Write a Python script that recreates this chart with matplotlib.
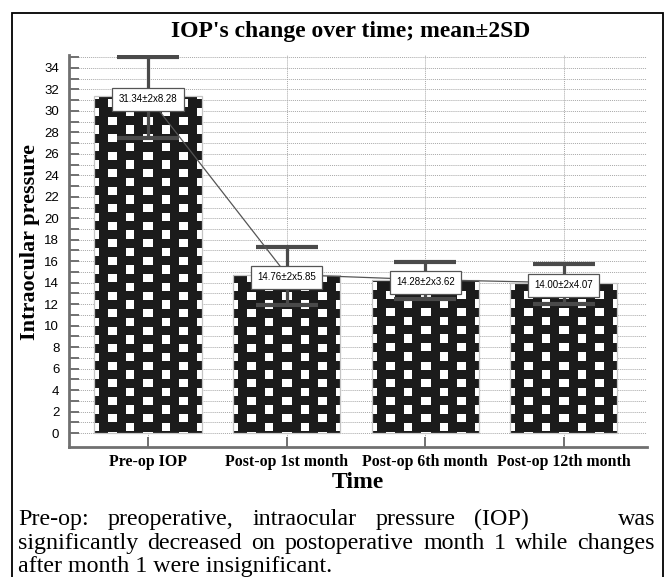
import numpy as np
import matplotlib
matplotlib.use("Agg")
import matplotlib.pyplot as plt
from matplotlib.patches import Rectangle
from matplotlib.ticker import FixedLocator
from matplotlib.colors import ListedColormap

# data
categories = ["Pre-op IOP", "Post-op 1st month", "Post-op 6th month", "Post-op 12th month"]
means = [31.34, 14.76, 14.28, 14.00]
err_low = [3.9, 2.85, 1.8, 2.0]
err_high = [3.66, 2.6, 1.65, 1.7]
box_labels = ["31.34±2x8.28", "14.76±2x5.85", "14.28±2x3.62", "14.00±2x4.07"]
title = "IOP's change over time; mean±2SD"
caption_lines = [
    "Pre-op: preoperative, intraocular pressure (IOP) was",
    "significantly decreased on postoperative month 1 while changes",
    "after month 1 were insignificant.",
]

W, H = 667, 577
SERIF = "Liberation Serif"
SANS = "Liberation Sans"
GRAY = "#707070"
BLACK = "#1b1b1b"

fig = plt.figure(figsize=(W / 100, H / 100), dpi=100)
ax = fig.add_axes([69 / W, 1 - 447 / H, (647 - 69) / W, (447 - 55) / H])
x = np.arange(len(categories))
xlim = (-0.57, 3.60)
ylim = (-1.3, 35.2)
ax.set_xlim(*xlim)
ax.set_ylim(*ylim)

bars = ax.bar(x, means, width=0.773, facecolor="none", edgecolor="#c4c4c4",
              linewidth=0.9, zorder=2.2)

# black fill with staggered white squares, clipped to each bar
period, half = 17.5, 4.2
for b in bars:
    (px0, py0), (px1, py1) = ax.transData.transform(
        [(b.get_x(), 0), (b.get_x() + b.get_width(), b.get_height())])
    w, h = int(round(px1 - px0)), int(round(py1 - py0))
    cx = np.arange(w)[None, :] - (w - 1) / 2
    k = np.round(cx / period)
    in_col = np.abs(cx - k * period) <= half
    y0 = np.where(k % 2 == 0, 14.25, 5.5)
    dy = np.arange(h)[:, None] - y0
    in_row = np.abs(dy - np.round(dy / period) * period) <= half
    tex = (in_col & in_row).astype(float)
    im = ax.imshow(tex, cmap=ListedColormap([BLACK, "white"]), vmin=0, vmax=1,
                   extent=[b.get_x(), b.get_x() + b.get_width(), 0, b.get_height()],
                   origin="lower", interpolation="nearest", aspect="auto", zorder=2.1)
    im.set_clip_path(b)

ax.set_xlim(*xlim)
ax.set_ylim(*ylim)

ax.errorbar(x, means, yerr=[err_low, err_high], fmt="none", ecolor="#4a4a4a",
            elinewidth=2.3, capsize=22.3, capthick=3, zorder=3)
ax.plot(x, means, color="#555555", linewidth=0.9, zorder=3.5)
for xi, m, lbl in zip(x, means, box_labels):
    ax.annotate(lbl, (xi, m), xytext=(0, -2), textcoords="offset points",
                ha="center", va="center", fontsize=7, family=SANS, zorder=5,
                bbox=dict(boxstyle="square,pad=0.65", fc="white", ec="#555555", lw=0.9))

# grid and axes styling
ax.yaxis.set_major_locator(FixedLocator(np.arange(0, 35, 2)))
ax.yaxis.set_minor_locator(FixedLocator(np.arange(1, 36, 2)))
ax.set_xticks(x)
ax.set_xticklabels(categories, family=SERIF, fontweight="bold", fontsize=11.4)
for lab in ax.get_yticklabels():
    lab.set_family(SANS)
ax.grid(axis="y", which="both", color="#a8a8a8", linestyle=(0, (1, 1)), linewidth=0.7, zorder=0)
ax.grid(axis="x", which="major", color="#a8a8a8", linestyle=(0, (1, 1)), linewidth=0.7, zorder=0)
ax.set_axisbelow(True)
ax.tick_params(axis="y", which="both", direction="in", length=7.5, width=1.4,
               color=GRAY, labelsize=9.5, pad=7)
ax.tick_params(axis="x", direction="in", length=7, width=1.4, color=GRAY, pad=5)
for s in ["top", "right"]:
    ax.spines[s].set_visible(False)
for s in ["left", "bottom"]:
    ax.spines[s].set_color(GRAY)
    ax.spines[s].set_linewidth(2)

fig.text(351 / W, 1 - 32 / H, title, ha="center", va="center",
         family=SERIF, fontweight="bold", fontsize=17)
fig.text(30 / W, 1 - 242 / H, "Intraocular pressure", rotation=90, ha="center",
         va="center", family=SERIF, fontweight="bold", fontsize=16)
fig.text(358 / W, 1 - 483 / H, "Time", ha="center", va="center",
         family=SERIF, fontweight="bold", fontsize=17)

# frame around the panel
fig.patches.append(Rectangle((12 / W, -0.05), (663 - 12) / W, 1.05 - 13 / H, fill=False,
                             ec="black", lw=1.3, transform=fig.transFigure, figure=fig))

# caption, justified like the source
renderer = fig.canvas.get_renderer()
CAP_SIZE = 17.3


def place_words(line, y_px, left, right, weights=None):
    words = line.split()
    texts = [fig.text(0, 1 - y_px / H, wd, va="baseline", family=SERIF, fontsize=CAP_SIZE)
             for wd in words]
    widths = [t.get_window_extent(renderer).width for t in texts]
    gaps = weights if weights else [1] * (len(words) - 1)
    unit = (right - left - sum(widths)) / sum(gaps)
    pos = left
    for i, t in enumerate(texts):
        t.set_x(pos / W)
        pos += widths[i] + (unit * gaps[i] if i < len(gaps) else 0)


place_words(caption_lines[0], 525, 18, 655, weights=[1, 1, 1, 1, 4.7])
place_words(caption_lines[1], 549, 18, 655)
fig.text(18 / W, 1 - 572 / H, caption_lines[2], va="baseline", family=SERIF, fontsize=CAP_SIZE)

fig.savefig("out.png", dpi=100)
